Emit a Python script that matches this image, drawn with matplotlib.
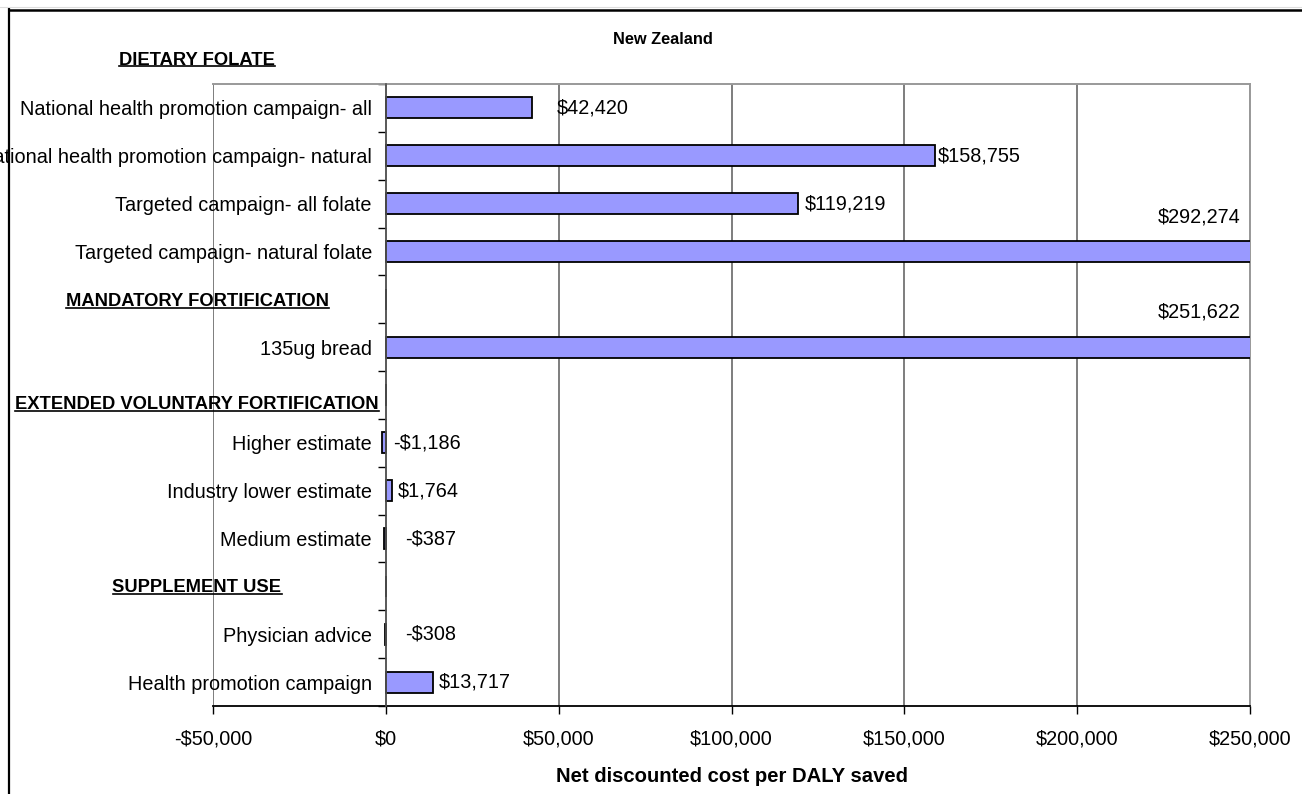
import matplotlib
matplotlib.use("Agg")
import matplotlib.pyplot as plt
import matplotlib.transforms as mtransforms
from matplotlib.lines import Line2D
import numpy as np

plt.rcParams['font.family'] = ['Liberation Sans', 'DejaVu Sans']

# Rows top to bottom; empty strings are the spacer rows under each section heading
categories = [
    "National health promotion campaign- all",
    "National health promotion campaign- natural",
    "Targeted campaign- all folate",
    "Targeted campaign- natural folate",
    "",
    "135ug bread",
    "",
    "Higher estimate",
    "Industry lower estimate",
    "Medium estimate",
    "",
    "Physician advice",
    "Health promotion campaign",
]
cost_per_daly = [42420, 158755, 119219, 292274, np.nan, 251622, np.nan,
                 -1186, 1764, -387, np.nan, -308, 13717]

sections = ["DIETARY FOLATE", "MANDATORY FORTIFICATION",
            "EXTENDED VOLUNTARY FORTIFICATION", "SUPPLEMENT USE"]
section_rows = [-1.0, 4.05, 6.2, 10.03]

x_ticks = [-50000, 0, 50000, 100000, 150000, 200000, 250000]

W, H = 1302, 794
fig = plt.figure(figsize=(W / 100, H / 100), dpi=100)
ax = fig.add_axes([213 / W, 1 - 706 / H, (1250 - 213) / W, (706 - 84) / H])

BAR = '#9999FF'
GRID = '#5a5a5a'
BORDER = '#999999'
FS = 14.3

rows = np.arange(len(categories))
vals = np.array(cost_per_daly, dtype=float)
ax.barh(rows, np.nan_to_num(vals), height=0.44, color=BAR,
        edgecolor='black', linewidth=1.3, zorder=3)

ax.set_xlim(-50000, 250000)
ax.set_ylim(len(categories) - 0.5, -0.5)

# x axis
ax.set_xticks(x_ticks)
ax.set_xticklabels([("-$" if t < 0 else "$") + f"{abs(t):,}" for t in x_ticks],
                   fontsize=FS)
ax.tick_params(axis='x', direction='out', length=6, width=1, color='black',
               pad=11)
ax.xaxis.grid(True, color=GRID, linewidth=1.1, zorder=0)
ax.set_axisbelow(True)
ax.set_xlabel("Net discounted cost per DALY saved", fontsize=14.6,
              fontweight='bold', labelpad=13)

# y axis sits on the zero line; tick marks between rows, labels on the rows
ax.spines['left'].set_position(('data', 0))
ax.spines['left'].set_color('#555555')
ax.spines['left'].set_linewidth(1.2)
ax.spines['left'].set_zorder(4)
ax.spines['bottom'].set_color('black')
ax.spines['bottom'].set_linewidth(1.3)
for s in ('top', 'right'):
    ax.spines[s].set_color(BORDER)
    ax.spines[s].set_linewidth(1.4)

ax.set_yticks(np.arange(-0.5, len(categories), 1.0))
ax.set_yticklabels([])
ax.tick_params(axis='y', which='major', direction='out', length=6, width=1,
               color='black')
ax.set_yticks(rows, minor=True)
ax.set_yticklabels(categories, minor=True, fontsize=FS)
ax.tick_params(axis='y', which='minor', length=0, pad=10)

# value labels
label_dx = [24, 3, 7, 0, 0, 0, 0, 7, 6, 19, 0, 19, 6]
for r, v, dx in zip(rows, vals, label_dx):
    if np.isnan(v):
        continue
    txt = ("-$" if v < 0 else "$") + f"{abs(v):,.0f}"
    if v > 250000:
        ax.annotate(txt, (250000, r), xytext=(-7, 25), textcoords='offset points',
                    ha='right', va='center', fontsize=FS)
    else:
        ax.annotate(txt, (max(v, 0), r), xytext=(dx * 0.72, 0),
                    textcoords='offset points', ha='left', va='center',
                    fontsize=FS)

fig.text(663 / W, 1 - 39 / H, "New Zealand", ha='center', va='center',
         fontsize=11.8, fontweight='bold')

# section headings, bold and underlined
trans = mtransforms.blended_transform_factory(fig.transFigure, ax.transData)
heads = []
for name, r in zip(sections, section_rows):
    heads.append(fig.text(197 / W, r, name, transform=trans, ha='center',
                          va='center', fontsize=13.2, fontweight='bold'))

fig.canvas.draw()
renderer = fig.canvas.get_renderer()
inv = fig.transFigure.inverted()
for t in heads:
    bb = t.get_window_extent(renderer)
    (x0, y0), (x1, _) = inv.transform([(bb.x0, bb.y0 + 2.3), (bb.x1, bb.y0 + 2.3)])
    fig.add_artist(Line2D([x0, x1], [y0, y0], color='black', lw=1.2,
                          transform=fig.transFigure))

# chart frame
fig.add_artist(Line2D([9 / W, 9 / W], [0, 1 - 9 / H], color='black', lw=1.6,
                      transform=fig.transFigure))
fig.add_artist(Line2D([9 / W, 1], [1 - 9.5 / H, 1 - 9.5 / H], color='black',
                      lw=1.8, transform=fig.transFigure))
fig.add_artist(Line2D([0, 1], [1 - 7 / H, 1 - 7 / H], color='#dddddd', lw=0.8,
                      transform=fig.transFigure))

fig.savefig("out.png", dpi=100, facecolor='white')
